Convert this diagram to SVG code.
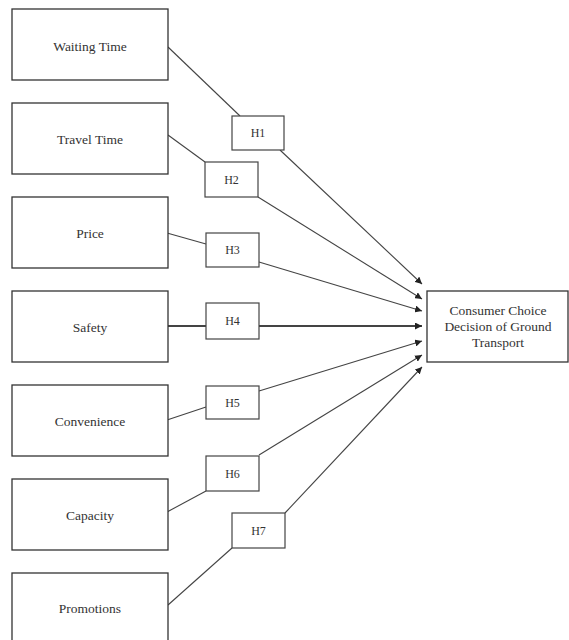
<svg xmlns="http://www.w3.org/2000/svg" width="569" height="640" viewBox="0 0 569 640">
<style>
.box{fill:#fff;stroke:#333;stroke-width:1.3}
.hb{fill:#fff;stroke:#444;stroke-width:1.2}
.t{font-family:"Liberation Serif",serif;font-size:13.5px;fill:#333;text-anchor:middle}
.h{font-family:"Liberation Serif",serif;font-size:12px;fill:#333;text-anchor:middle}
.c{fill:none;stroke:#444;stroke-width:1.1}
</style>
<defs>
<marker id="ar" markerWidth="8" markerHeight="7" refX="7" refY="3.5" orient="auto" markerUnits="userSpaceOnUse">
<path d="M0,0 L7,3.5 L0,7 Z" fill="#222"/>
</marker>
</defs>
<rect width="569" height="640" fill="#fff"/>
<g id="connectors">
<polyline class="c" points="168,47 240,116"/>
<polyline class="c" points="280,150 422,284" marker-end="url(#ar)"/>
<polyline class="c" points="168,135 205,162"/>
<polyline class="c" points="258,197 422,299" marker-end="url(#ar)"/>
<polyline class="c" points="167,233 206,244"/>
<polyline class="c" points="259,262 422,311" marker-end="url(#ar)"/>
<polyline class="c" points="168,326 206,326" style="stroke-width:1.8"/>
<polyline class="c" points="259,326 422,326" style="stroke-width:1.8" marker-end="url(#ar)"/>
<polyline class="c" points="167,420 206,407"/>
<polyline class="c" points="259,391 422,341" marker-end="url(#ar)"/>
<polyline class="c" points="167,512 206,491"/>
<polyline class="c" points="259,455 422,355" marker-end="url(#ar)"/>
<polyline class="c" points="168,605 232,548"/>
<polyline class="c" points="285,513 422,367" marker-end="url(#ar)"/>
</g>
<g id="n_waiting"><rect class="box" x="12" y="9" width="156" height="71"/><text class="t" x="90" y="51">Waiting Time</text></g>
<g id="n_travel"><rect class="box" x="12" y="103" width="156" height="71"/><text class="t" x="90" y="144">Travel Time</text></g>
<g id="n_price"><rect class="box" x="12" y="197" width="156" height="71"/><text class="t" x="90" y="238">Price</text></g>
<g id="n_safety"><rect class="box" x="12" y="291" width="156" height="71"/><text class="t" x="90" y="332">Safety</text></g>
<g id="n_convenience"><rect class="box" x="12" y="385" width="156" height="71"/><text class="t" x="90" y="426">Convenience</text></g>
<g id="n_capacity"><rect class="box" x="12" y="479" width="156" height="71"/><text class="t" x="90" y="520">Capacity</text></g>
<g id="n_promotions"><rect class="box" x="12" y="573" width="156" height="71"/><text class="t" x="90" y="613">Promotions</text></g>
<g id="h1"><rect class="hb" x="232" y="116" width="52" height="34"/><text class="h" x="258" y="137">H1</text></g>
<g id="h2"><rect class="hb" x="205" y="162" width="53" height="35"/><text class="h" x="231.5" y="184">H2</text></g>
<g id="h3"><rect class="hb" x="206" y="233" width="53" height="34"/><text class="h" x="232.5" y="254">H3</text></g>
<g id="h4"><rect class="hb" x="206" y="303" width="53" height="36"/><text class="h" x="232.5" y="325">H4</text></g>
<g id="h5"><rect class="hb" x="206" y="386" width="53" height="33"/><text class="h" x="232.5" y="407">H5</text></g>
<g id="h6"><rect class="hb" x="206" y="456" width="53" height="35"/><text class="h" x="232.5" y="478">H6</text></g>
<g id="h7"><rect class="hb" x="232" y="513" width="53" height="35"/><text class="h" x="258.5" y="535">H7</text></g>
<g id="n_target"><rect class="box" x="427" y="291" width="141" height="71"/>
<text class="t" x="498" y="315">Consumer Choice</text>
<text class="t" x="498" y="331">Decision of Ground</text>
<text class="t" x="498" y="347">Transport</text></g>
</svg>
